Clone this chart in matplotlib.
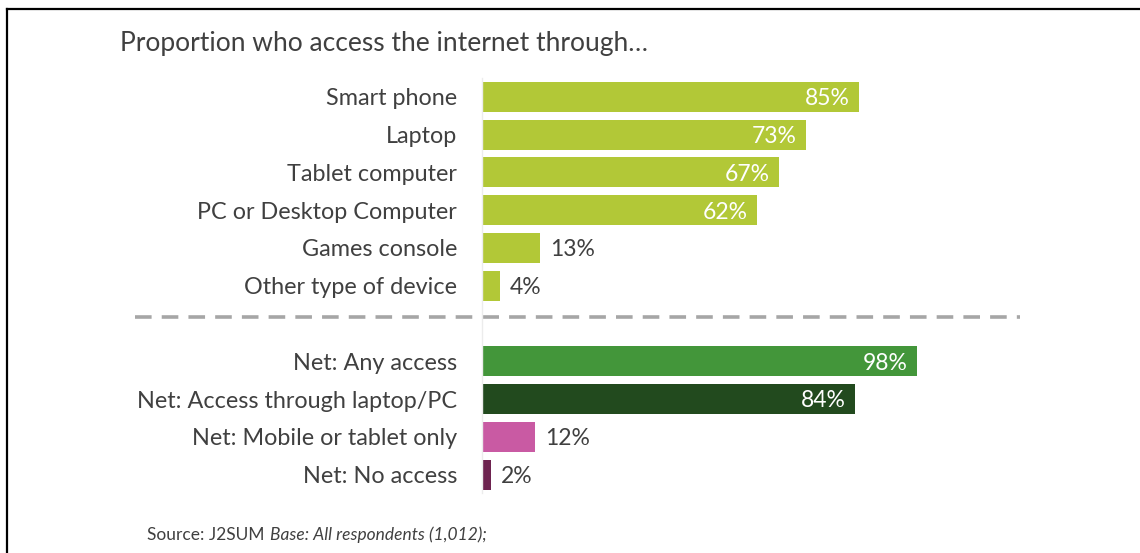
import matplotlib
matplotlib.use("Agg")
import matplotlib.pyplot as plt
from matplotlib.lines import Line2D

plt.rcParams['font.family'] = ['Lato', 'DejaVu Sans']

# ------------------------------------------------------------------------------
# data

device_labels = ['Smart phone', 'Laptop', 'Tablet computer', 'PC or Desktop Computer',
                 'Games console', 'Other type of device']
device_values = [85, 73, 67, 62, 13, 4]

net_labels = ['Net: Any access', 'Net: Access through laptop/PC',
              'Net: Mobile or tablet only', 'Net: No access']
net_values = [98, 84, 12, 2]
net_colors = ['#43963a', '#224a1e', '#c95aa3', '#6e2350']

device_color = '#b2c837'
text_grey = '#404040'

# ------------------------------------------------------------------------------

W, H = 1140, 553
fig = plt.figure(figsize=(W / 100, H / 100), dpi=100)
fig.patch.set_facecolor('white')

# axes placed in pixels: x=0 at 482px, 4.435px per percent; rows every 37.75px from y=97
x0_px, px_per_pct = 482, 4.435
row0_px, row_px = 97, 37.75
ax = fig.add_axes([x0_px / W, (H - (row0_px + 10.5 * row_px)) / H,
                   100 * px_per_pct / W, 11 * row_px / H])
ax.set_xlim(0, 100)
ax.set_ylim(10.5, -0.5)

rows_dev = list(range(len(device_values)))
rows_net = [7 + i for i in range(len(net_values))]
bar_h = 30 / row_px

ax.barh(rows_dev, device_values, height=bar_h, color=device_color)
ax.barh(rows_net, net_values, height=bar_h, color=net_colors)

def put_value(row, val):
    if val >= 50:
        ax.text(val - 9 / px_per_pct, row + 0.22, f'{val}%', ha='right', va='baseline',
                color='white', fontsize=16.5)
    else:
        ax.text(val + 10 / px_per_pct, row + 0.22, f'{val}%', ha='left', va='baseline',
                color=text_grey, fontsize=16.5)

for r, v in zip(rows_dev, device_values):
    put_value(r, v)
for r, v in zip(rows_net, net_values):
    put_value(r, v)

ax.set_yticks(rows_dev + rows_net)
ax.set_yticklabels(device_labels + net_labels, fontsize=16.8, color=text_grey)
ax.tick_params(axis='y', length=0, pad=18)
ax.set_xticks([])

for s in ['top', 'right', 'bottom']:
    ax.spines[s].set_visible(False)
ax.spines['left'].set_color('#ececec')
ax.spines['left'].set_linewidth(1)

# dashed divider between devices and net groups
ax.plot([(135 - x0_px) / px_per_pct, (1020 - x0_px) / px_per_pct], [5.83, 5.83],
        color='#a6a6a6', lw=2.6, ls=(0, (4.6, 2.8)), clip_on=False)

fig.text(120 / W, 1 - 44 / H, 'Proportion who access the internet through\u2026',
         fontsize=19, color=text_grey, va='center', ha='left')

# source line: plain part then italic part right after it
src = fig.text(147 / W, 1 - 535 / H, 'Source: J2SUM', fontsize=12.5, color=text_grey,
               va='center', ha='left')
renderer = fig.canvas.get_renderer()
bb = src.get_window_extent(renderer=renderer)
fig.text((bb.x1 + 5) / W, 1 - 535 / H, 'Base: All respondents (1,012);', fontsize=12.5,
         color=text_grey, va='center', ha='left', style='italic')

# frame lines on left and top
fig.add_artist(Line2D([6.5 / W, 6.5 / W], [0, 1 - 8.5 / H], color='black', lw=1.6))
fig.add_artist(Line2D([6.5 / W, 1], [1 - 8.5 / H, 1 - 8.5 / H], color='black', lw=1.6))

fig.savefig('out.png', dpi=100, facecolor='white')
